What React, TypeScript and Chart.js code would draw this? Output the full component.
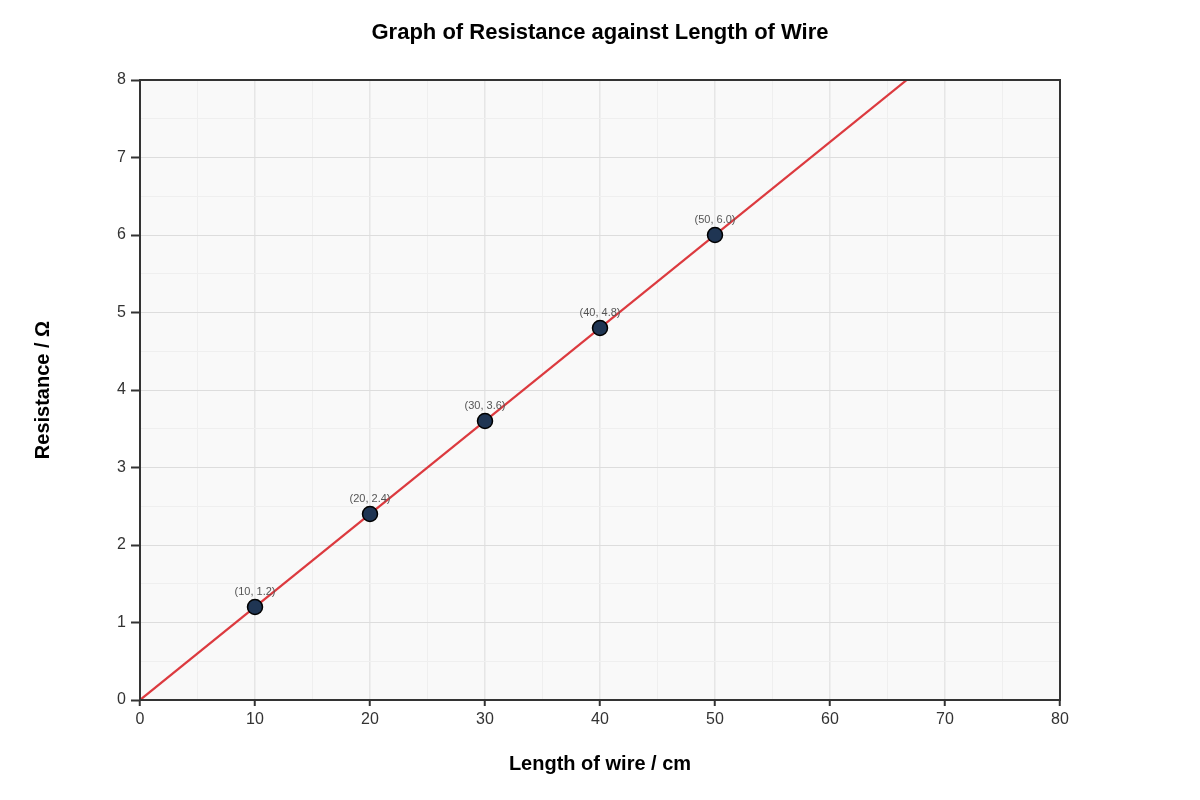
import React, { useEffect, useRef } from "react";
import { Chart, registerables } from "chart.js";

Chart.register(...registerables);

const lengths = [10, 20, 30, 40, 50];
const resistances = [1.2, 2.4, 3.6, 4.8, 6.0];
const fitSlope = 0.12;
const fitX = [0, 80];
const titleText = "Graph of Resistance against Length of Wire";
const xTitle = "Length of wire / cm";
const yTitle = "Resistance / Ω";
const FONT = "'Liberation Sans', Arial, Helvetica, sans-serif";

const overlayPlugin = {
  id: "overlay",
  beforeDraw(chart: any) {
    const { ctx, chartArea } = chart;
    ctx.save();
    ctx.fillStyle = "#f9f9f9";
    ctx.fillRect(chartArea.left, chartArea.top, chartArea.right - chartArea.left, chartArea.bottom - chartArea.top);
    ctx.restore();
  },
  afterDraw(chart: any) {
    const { ctx, chartArea } = chart;
    const xs = chart.scales.x;
    const ys = chart.scales.y;
    ctx.save();
    ctx.strokeStyle = "#333333";
    ctx.lineWidth = 2;
    ctx.strokeRect(chartArea.left, chartArea.top, chartArea.right - chartArea.left, chartArea.bottom - chartArea.top);
    ctx.fillStyle = "#000000";
    ctx.textAlign = "center";
    ctx.textBaseline = "middle";
    ctx.font = `bold 22px ${FONT}`;
    ctx.fillText(titleText, 600, 33);
    ctx.font = `bold 20px ${FONT}`;
    ctx.fillText(xTitle, (chartArea.left + chartArea.right) / 2, 764);
    ctx.save();
    ctx.translate(43, (chartArea.top + chartArea.bottom) / 2);
    ctx.rotate(-Math.PI / 2);
    ctx.fillText(yTitle, 0, 0);
    ctx.restore();
    ctx.font = `11px ${FONT}`;
    ctx.fillStyle = "#555555";
    ctx.textBaseline = "alphabetic";
    lengths.forEach((l, i) => {
      const px = xs.getPixelForValue(l);
      const py = ys.getPixelForValue(resistances[i]);
      ctx.fillText(`(${l}, ${resistances[i].toFixed(1)})`, px, py - 12);
    });
    ctx.restore();
  },
};

export default function App() {
  const ref = useRef<HTMLCanvasElement>(null);
  useEffect(() => {
    document.body.style.margin = "0";
    const canvas = ref.current!;
    const chart = new Chart(canvas, {
      type: "scatter",
      data: {
        datasets: [
          {
            type: "line",
            data: fitX.map((x) => ({ x, y: fitSlope * x })),
            borderColor: "#dc3a3f",
            borderWidth: 2.2,
            pointRadius: 0,
            fill: false,
            order: 2,
          } as any,
          {
            data: lengths.map((x, i) => ({ x, y: resistances[i] })),
            backgroundColor: "#1f3553",
            borderColor: "#000000",
            borderWidth: 1.5,
            pointRadius: 7.5,
            order: 1,
          },
        ],
      },
      options: {
        responsive: false,
        animation: false,
        devicePixelRatio: 1,
        layout: { padding: { left: 0, top: 80, right: 140, bottom: 0 } },
        plugins: { legend: { display: false }, tooltip: { enabled: false }, title: { display: false } },
        scales: {
          x: {
            type: "linear",
            min: 0,
            max: 80,
            border: { display: false },
            afterFit: (s: any) => { s.height = 100; },
            ticks: {
              stepSize: 5,
              color: "#333333",
              font: { size: 16, family: FONT },
              padding: 4,
              maxRotation: 0,
              autoSkip: false,
              callback: (v: any) => (Number(v) % 10 === 0 ? String(v) : ""),
            },
            grid: {
              color: (c: any) => (c.tick && c.tick.value % 10 === 0 ? "#e6e6e6" : "#efefef"),
              lineWidth: (c: any) => (c.tick && c.tick.value % 10 === 0 ? 1.5 : 1),
              tickColor: (c: any) => (c.tick && c.tick.value % 10 === 0 ? "#333333" : "rgba(0,0,0,0)"),
              tickLength: 6,
              tickWidth: 2,
            } as any,
          },
          y: {
            type: "linear",
            min: 0,
            max: 8,
            border: { display: false },
            afterFit: (s: any) => { s.width = 140; },
            ticks: {
              stepSize: 0.5,
              color: "#333333",
              font: { size: 16, family: FONT },
              padding: 5,
              autoSkip: false,
              callback: (v: any) => (Number(v) % 1 === 0 ? String(v) : ""),
            },
            grid: {
              color: (c: any) => (c.tick && c.tick.value % 1 === 0 ? "#dddddd" : "#efefef"),
              lineWidth: 1,
              tickColor: (c: any) => (c.tick && c.tick.value % 1 === 0 ? "#333333" : "rgba(0,0,0,0)"),
              tickLength: 9,
              tickWidth: 2,
            } as any,
          },
        },
      },
      plugins: [overlayPlugin],
    });
    return () => chart.destroy();
  }, []);
  return (
    <div style={{ position: "absolute", left: 0, top: 0, width: 1200, height: 800, background: "#ffffff" }}>
      <canvas ref={ref} width={1200} height={800} style={{ width: 1200, height: 800 }} />
    </div>
  );
}
